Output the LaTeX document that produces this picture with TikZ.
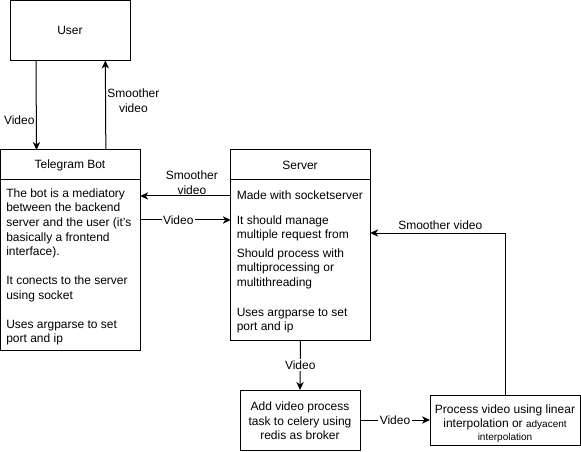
\documentclass[tikz,border=0pt]{standalone}
\usepackage{fontspec}
\setmainfont{Liberation Sans}
\usetikzlibrary{arrows.meta}
\begin{document}
\begin{tikzpicture}[x=0.75pt,y=-0.75pt, font=\fontsize{9}{10.9}\selectfont,
 box/.style={draw, line width=0.75pt, inner sep=0, outer sep=0},
 arr/.style={line width=0.75pt, -{Stealth[length=6pt,width=5.5pt,inset=1.8pt]}},
 lbl/.style={inner sep=1pt, align=center},
 wl/.style={fill=white, inner sep=1pt},
 body/.style={anchor=north west, inner sep=0, align=left}]
\useasboundingbox (0,0) rectangle (581,452);
% boxes
\node[box, minimum width=90pt, minimum height=45pt] (user) at (70,30.5) {User};
\node[box, minimum width=104.5pt, minimum height=150pt] (bot) at (70.5,250) {};
\node[box, minimum width=104.5pt, minimum height=142.5pt] (server) at (300.5,245) {};
\node[box, minimum width=90pt, minimum height=45pt] (add) at (300,420) {};
\node[box, minimum width=112.5pt, minimum height=37.5pt] (proc) at (505,420) {};
% headers
\draw[line width=0.75pt] ([yshift=-22.5pt]bot.north west) -- ([yshift=-22.5pt]bot.north east);
\draw[line width=0.75pt] ([yshift=-22.5pt]server.north west) -- ([yshift=-22.5pt]server.north east);
\node[inner sep=0] (bottitle) at (70,165) {Telegram Bot};
\node[inner sep=0] (servertitle) at (300,165) {Server};
% body texts
\node[body] (bottext) at (6,188.5) {The bot is a mediatory\\between the backend\\server and the user (it's\\basically a frontend\\interface).\\[10.9pt]It conects to the server\\using socket\\[10.9pt]Uses argparse to set\\port and ip};
\node[body] (s1) at (236.5,190.5) {Made with socketserver};
\node[body] (s2) at (236.5,215.5) {It should manage\\multiple request from};
\node[body] (s3) at (236.5,248.5) {Should process with\\multiprocessing or\\multithreading};
\node[body] (s4) at (236.5,307.5) {Uses argparse to set\\port and ip};
\node[align=center, inner sep=0] (addtext) at (300,421) {Add video process\\task to celery using\\redis as broker};
\node[align=center, inner sep=0, font=\fontsize{9}{10.2}\selectfont] (proctext) at (505,424) {Process video using linear\\interpolation or {\fontsize{7.5}{10.2}\selectfont adyacent}\\{\fontsize{7.5}{10.2}\selectfont interpolation}};
% connectors
\draw[arr] ([xshift=-25.5pt]user.south) -- ([xshift=-25.5pt]bot.north)
  node[pos=0.67, left, inner sep=1pt] {Video};
\draw[arr] ([xshift=26.5pt]bot.north) -- ([xshift=26.5pt]user.south)
  node[pos=0.55, right, lbl] {Smoother\\video};
\draw[arr] ([yshift=-34.5pt]server.north west) -- ([yshift=-34.5pt]bot.north east)
  node[pos=0.43, above, lbl] {Smoother\\video};
\draw[arr] ([yshift=-52.5pt]bot.north east) -- ([yshift=-52.5pt]server.north west)
  node[pos=0.42, wl] {Video};
\draw[arr] (server.south) -- (add.north) node[midway, wl] {Video};
\draw[arr] (add.east) -- (proc.west) node[midway, wl] {Video};
\draw[arr] (proc.north) |- ([yshift=-62.25pt]server.north east)
  node[pos=0.74, above, inner sep=2pt] {Smoother video};
\end{tikzpicture}
\end{document}
